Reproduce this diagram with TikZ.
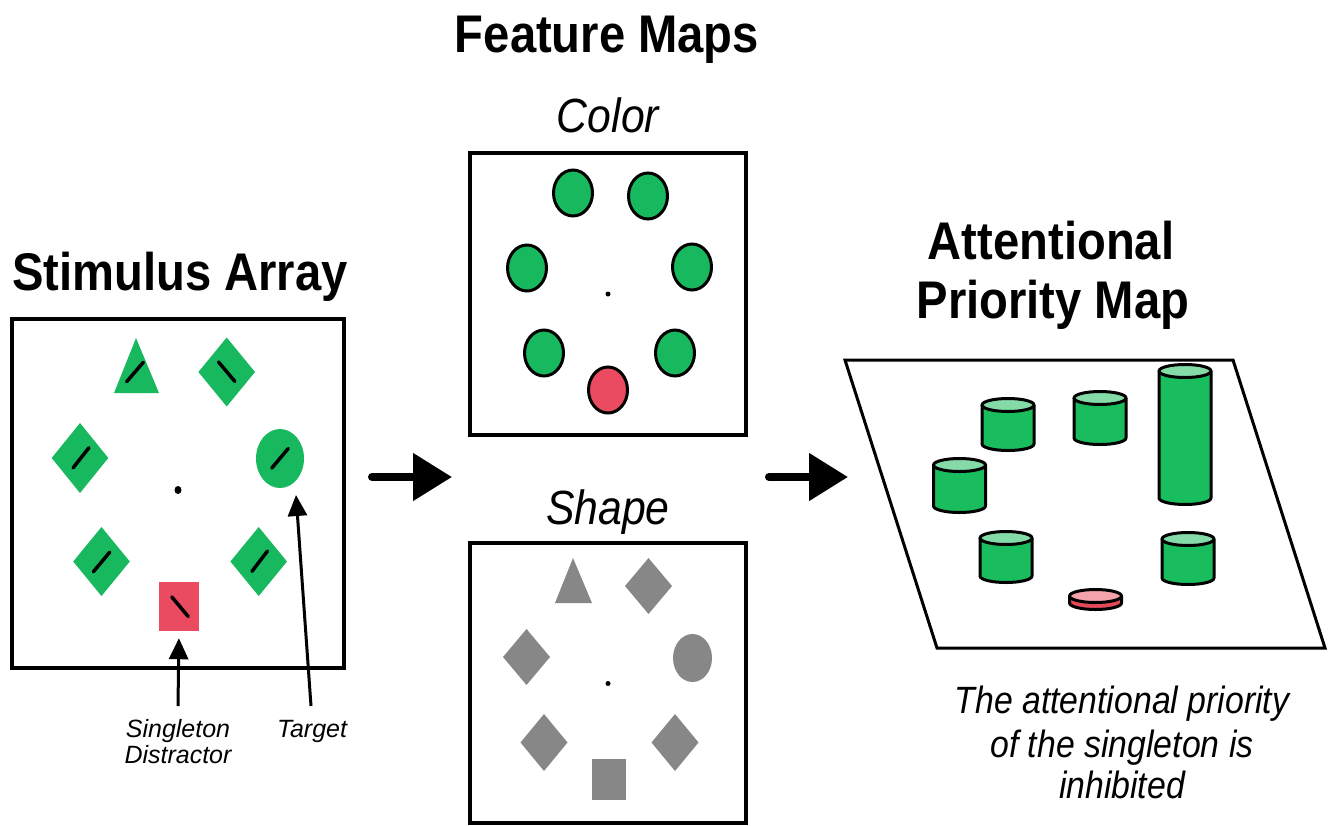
\documentclass[tikz,border=0pt]{standalone}
\usepackage{fontspec}
\setmainfont{Liberation Sans}
\newfontfamily\condfont[FakeStretch=0.89]{Liberation Sans}
\usetikzlibrary{arrows.meta,shapes.geometric}
\definecolor{stimgreen}{HTML}{17B85E}
\definecolor{stimred}{HTML}{EA4B60}
\definecolor{cylgreen}{HTML}{1ABD5E}
\definecolor{cyltop}{HTML}{85DBA7}
\definecolor{disctop}{HTML}{F4A3AC}
\definecolor{discside}{HTML}{E4495A}
\definecolor{shapegray}{HTML}{878787}
\newcommand\mydiam[5]{\fill[#5] ({#1},{#2-#4}) -- ({#1+#3},{#2}) -- ({#1},{#2+#4}) -- ({#1-#3},{#2}) -- cycle;}
\newcommand\mybar[3]{\draw[barline] ([shift={(#3:12.8pt)}]#1,#2) -- ([shift={(#3+180:12.8pt)}]#1,#2);}
\newcommand\mycyl[5]{%
  \fill[#4] ({#1-26},#2) -- ({#1-26},#3) arc[start angle=180,end angle=360,x radius=26pt,y radius=6.5pt] -- ({#1+26},#2) -- cycle;
  \draw[cylline] ({#1-26},#2) -- ({#1-26},#3) arc[start angle=180,end angle=360,x radius=26pt,y radius=6.5pt] -- ({#1+26},#2);
  \filldraw[cylline,fill=#5] (#1,#2) ellipse[x radius=26pt,y radius=6.5pt];}
\begin{document}
\begin{tikzpicture}[x=1pt,y=-1pt,
  panel/.style={draw,line width=3.5pt,minimum width=#1,inner sep=0pt},
  barline/.style={line width=3.5pt,line cap=round},
  cylline/.style={line width=3pt,line join=round},
  colell/.style={draw,line width=3pt},
  bigtitle/.style={font=\condfont\bfseries\fontsize{53}{53}\selectfont,anchor=base,inner sep=0pt},
  subtitle/.style={font=\condfont\itshape\fontsize{48}{48}\selectfont,anchor=base,inner sep=0pt},
  note/.style={font=\condfont\itshape\fontsize{38}{38}\selectfont,anchor=base,inner sep=0pt},
  small/.style={font=\itshape\fontsize{25}{25}\selectfont,anchor=base,inner sep=0pt},
  bigarrow/.style={line width=8pt,line cap=round,-{Triangle[length=39pt,width=46pt]}},
  pointer/.style={line width=3pt,-{Triangle[length=21pt,width=19pt]}}]
\useasboundingbox (0,0) rectangle (1337,825);

% ---------- titles ----------
\node[bigtitle] (tstim) at (180,290) {Stimulus Array};
\node[bigtitle] (tfeat) at (607,52) {Feature Maps};
\node[subtitle] (tcolor) at (608,132) {Color};
\node[subtitle] (tshape) at (608,524) {Shape};
\node[bigtitle] (tatt1) at (1051,259) {Attentional};
\node[bigtitle] (tatt2) at (1053,318) {Priority Map};

% ---------- stimulus array ----------
\node[panel=332pt,minimum height=349pt] (stim) at (178,493.5) {};
\fill[stimgreen] (136,338) -- (159,393) -- (114,393) -- cycle;
\mydiam{226.7}{372}{28.3}{34.5}{stimgreen}
\mydiam{80}{458}{28.3}{35}{stimgreen}
\mydiam{101.5}{561.5}{28.3}{34.5}{stimgreen}
\mydiam{258.7}{561.5}{28.3}{34.5}{stimgreen}
\node[fill=stimgreen,ellipse,minimum width=48pt,minimum height=59pt,inner sep=0pt,draw=none] (targ) at (280,458.5) {};
\node[fill=stimred,minimum width=40pt,minimum height=49pt,inner sep=0pt] (redsq) at (179,606.5) {};
\mybar{135}{372}{49.4}
\mybar{226.7}{371.7}{130}
\mybar{81}{457.8}{51.7}
\mybar{280}{458.3}{50}
\mybar{101.5}{562}{50}
\mybar{259.7}{561.2}{52.7}
\mybar{180}{606.7}{130}
\fill (178,490) ellipse[x radius=3.5pt,y radius=4pt];

\node[small] (lsing) at (178,737) {Singleton};
\node[small] (ldist) at (178,763) {Distractor};
\node[small] (ltarg) at (312,737) {Target};
\coordinate (sdtail) at (178,706);
\coordinate (tgtail) at (311,706);
\draw[pointer,shorten >=7pt] (sdtail) -- (redsq.south);
\draw[pointer] (tgtail) -- (296,495);

% ---------- arrows between panels ----------
\coordinate (a1s) at (372,477);
\coordinate (a1e) at (452,477);
\coordinate (a2s) at (769,477);
\coordinate (a2e) at (848,477);
\draw[bigarrow] (a1s) -- (a1e);
\draw[bigarrow] (a2s) -- (a2e);

% ---------- colour map ----------
\node[panel=276pt,minimum height=282pt] (colmap) at (608,294) {};
\foreach \x/\y in {573/193,648/196,527/268,692/267,544/353,675/353}
  \filldraw[colell,fill=stimgreen] (\x,\y) ellipse[x radius=19.5pt,y radius=23pt];
\filldraw[colell,fill=stimred] (608,390) ellipse[x radius=19.5pt,y radius=23pt];
\fill (608,294) circle[radius=2.5pt];

% ---------- shape map ----------
\node[panel=276pt,minimum height=280pt] (shpmap) at (608,683) {};
\fill[shapegray] (573,558) -- (592,603) -- (555,603) -- cycle;
\mydiam{648.5}{586}{23.5}{28}{shapegray}
\mydiam{526.5}{657}{23.5}{28}{shapegray}
\mydiam{544}{742.5}{23.5}{28.5}{shapegray}
\mydiam{675}{742.5}{23.5}{28.5}{shapegray}
\fill[shapegray] (692.5,658) ellipse[x radius=19.5pt,y radius=24pt];
\fill[shapegray] (592,759) rectangle (626,800);
\fill (608,683.5) circle[radius=2.5pt];

% ---------- priority map ----------
\draw[line width=3pt,line join=miter] (845,360) -- (1233,360) -- (1325,648) -- (937,648) -- cycle;
\mycyl{1008}{405}{444}{cylgreen}{cyltop}
\mycyl{1100}{398}{438}{cylgreen}{cyltop}
\mycyl{1185}{371}{498}{cylgreen}{cyltop}
\mycyl{959.5}{465}{506}{cylgreen}{cyltop}
\mycyl{1006}{538}{576}{cylgreen}{cyltop}
\mycyl{1188}{539}{578}{cylgreen}{cyltop}
\mycyl{1095.5}{596}{603}{discside}{disctop}

\node[note] (n1) at (1122,713) {The attentional priority};
\node[note] (n2) at (1122,757) {of the singleton is};
\node[note] (n3) at (1122,798) {inhibited};
\end{tikzpicture}
\end{document}
